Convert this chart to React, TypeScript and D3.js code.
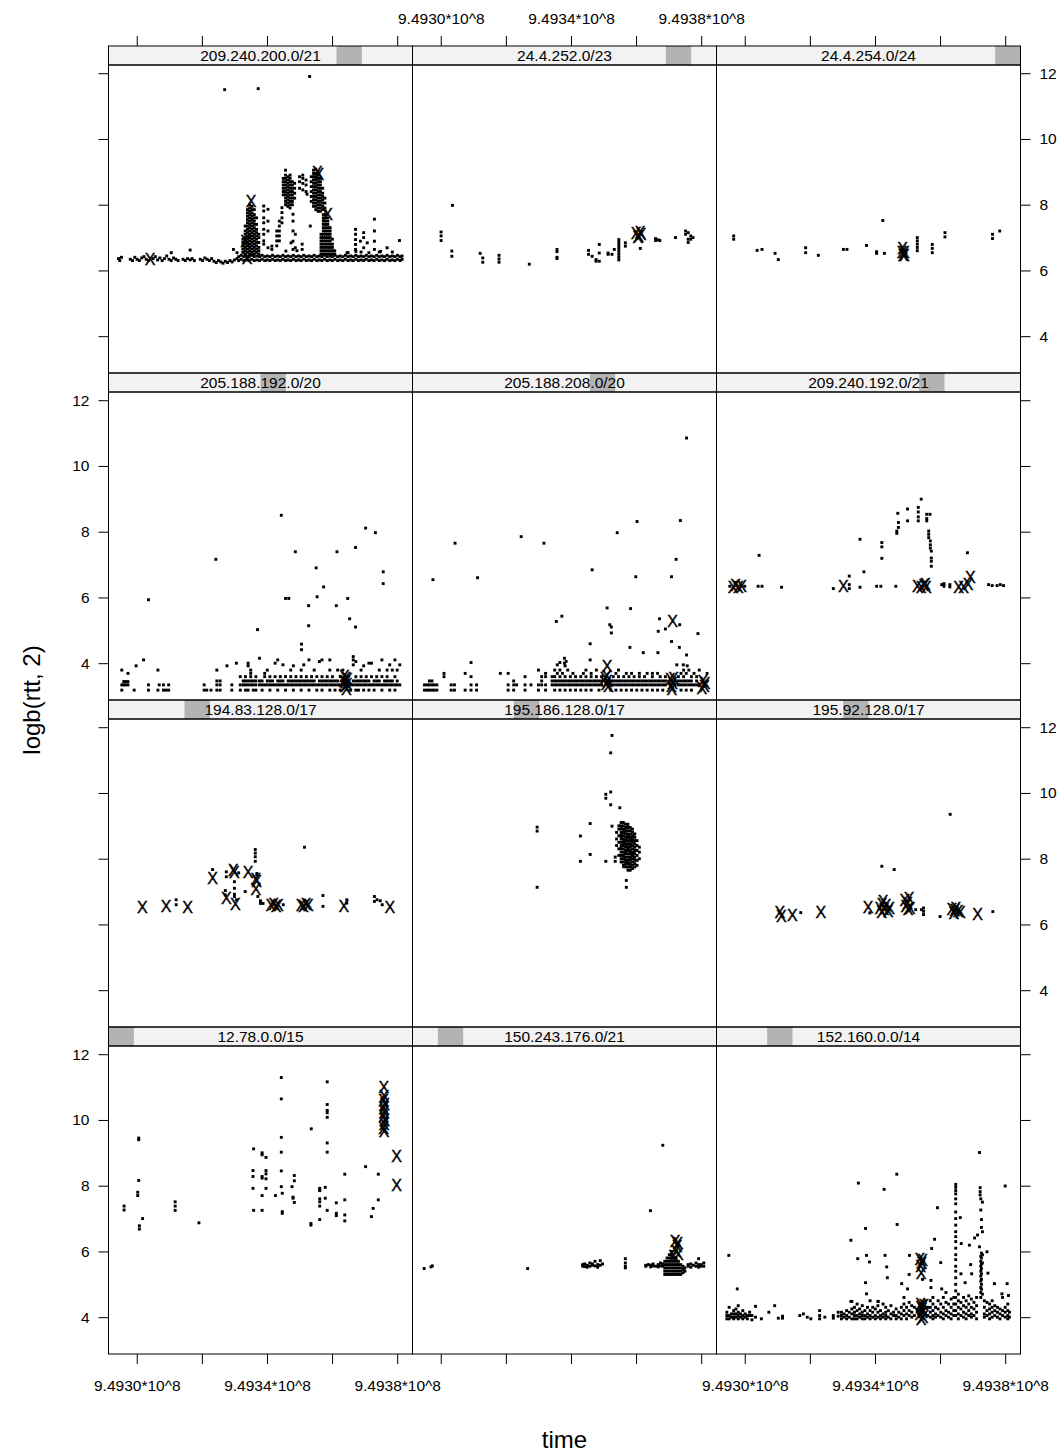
import React, { useEffect, useRef } from 'react';
import * as d3 from 'd3';

// time is kept as (seconds - 9.4930*10^8) / 10^4, rtt as logb(rtt, 2)
// every entry is [time, rtt, rtt, ...]: readings that share one time

const levels = [
  '12.78.0.0/15', '150.243.176.0/21', '152.160.0.0/14',
  '194.83.128.0/17', '195.186.128.0/17', '195.92.128.0/17',
  '205.188.192.0/20', '205.188.208.0/20', '209.240.192.0/21',
  '209.240.200.0/21', '24.4.252.0/23', '24.4.254.0/24',
];

const timeTicks = [0, 2, 4, 6, 8];
const timeTickLabels = ['9.4930*10^8', '', '9.4934*10^8', '', '9.4938*10^8'];
const rttTicks = [4, 6, 8, 10, 12];

// 12.78.0.0/15
const pts_12_78 = [
  [-0.39, 7.38, 7.26], [0.06, 9.45, 9.4, 8.16], [0.03, 7.8, 7.7], [0.18, 7.0], [0.08, 6.78, 6.68],
  [1.18, 7.51, 7.38, 7.25], [1.91, 6.87], [3.59, 9.12, 7.25], [3.57, 8.46, 8.28, 7.92],
  [3.85, 9.0, 8.94, 8.28, 8.23, 7.7, 7.25], [3.97, 8.86, 8.46, 8.36, 8.21, 7.92], [4.26, 7.7],
  [4.44, 11.29, 10.64, 9.47, 9.02, 8.45, 7.97], [4.47, 7.77, 7.21, 7.16], [4.77, 7.97],
  [4.84, 8.31, 8.15, 7.49], [4.8, 7.65, 7.62], [5.36, 9.73], [5.35, 6.85, 6.8],
  [5.62, 7.92, 7.88, 7.85, 7.6, 7.51, 7.38, 6.97], [5.79, 7.95, 7.62],
  [5.85, 11.16, 10.47, 10.29, 10.22, 10.08, 9.3, 9.02, 7.25], [6.13, 7.48, 7.16, 7.09],
  [6.39, 8.35, 7.57, 7.11, 6.93], [7.03, 8.58], [7.21, 7.06], [7.26, 7.31], [7.42, 8.35, 7.57],
];
const xs_12_78 = [
  [7.59, 11.01], [7.6, 10.72], [7.58, 10.6], [7.61, 10.48], [7.59, 10.35], [7.6, 10.22],
  [7.58, 10.1], [7.61, 9.98], [7.6, 9.86], [7.58, 9.75], [7.6, 9.65], [7.98, 8.89], [7.98, 8.02],
];

// 150.243.176.0/21
const pts_150_243 = [
  [-0.51, 5.48], [-0.3, 5.53], [-0.26, 5.56], [2.67, 5.48],
  [4.36, 5.6, 5.55], [4.42, 5.62, 5.54], [4.5, 5.58, 5.52], [4.58, 5.65, 5.55], [4.66, 5.62, 5.58],
  [4.74, 5.7, 5.56], [4.82, 5.6, 5.52], [4.9, 5.72, 5.58], [4.97, 5.62],
  [5.67, 5.78, 5.65, 5.55, 5.5],
  [6.3, 5.58, 5.55], [6.38, 5.6], [6.45, 5.58, 5.53], [6.52, 5.62, 5.56], [6.6, 5.55],
  [6.68, 5.6, 5.53], [6.75, 5.65, 5.56], [6.82, 5.62, 5.55], [6.44, 7.24], [6.82, 9.23],
  [6.88, 5.3, 5.4, 5.5, 5.6, 5.7], [6.95, 5.3, 5.4, 5.5, 5.6, 5.7, 5.8],
  [7.02, 5.3, 5.4, 5.5, 5.6, 5.7, 5.8, 5.9], [7.09, 5.3, 5.4, 5.5, 5.6, 5.7, 5.8, 5.9, 6.0],
  [7.16, 5.3, 5.4, 5.5, 5.6, 5.7, 5.8], [7.23, 5.3, 5.4, 5.5, 5.6, 5.7, 5.8],
  [7.3, 5.3, 5.4, 5.5, 5.6, 5.7], [7.37, 5.3, 5.4, 5.5, 5.6], [7.44, 5.35, 5.45, 5.55], [7.5, 5.4, 5.5],
  [7.6, 5.6, 5.55], [7.68, 5.62, 5.52], [7.76, 5.58], [7.84, 5.65, 5.55], [7.92, 5.78, 5.6, 5.52],
  [8.0, 5.6, 5.55], [8.08, 5.65, 5.55],
];
const xs_150_243 = [
  [7.2, 6.3], [7.26, 6.15], [7.22, 6.0], [7.3, 5.9], [7.15, 5.85], [7.28, 6.25],
];

// 152.160.0.0/14
const pts_152_160 = [
  [-0.55, 4.15, 4.05, 3.95], [-0.48, 4.3, 4.05, 3.95], [-0.41, 4.1, 4.0], [-0.34, 4.2, 4.1, 4.0, 3.95],
  [-0.27, 4.25, 4.1, 4.0], [-0.23, 4.86], [-0.2, 4.35, 4.15, 4.05, 3.95], [-0.13, 4.1, 4.0],
  [-0.06, 4.2, 4.05, 3.95], [0.01, 4.1, 4.0], [0.08, 4.05, 3.95], [0.15, 4.15, 4.05], [0.22, 4.05, 3.92],
  [0.33, 4.33, 4.0], [-0.49, 5.88], [0.51, 3.95], [0.74, 4.15], [0.92, 4.35], [1.03, 3.97],
  [1.16, 3.97, 4.03], [1.69, 4.05], [1.8, 4.1], [1.92, 4.0], [2.03, 3.95], [2.3, 4.2, 4.05, 3.95],
  [2.46, 4.0], [2.72, 4.05, 3.97], [2.87, 4.15, 4.03],
  [2.97, 4.15, 4.05, 3.95], [3.05, 4.1, 4.0], [3.13, 4.2, 4.05, 3.95], [3.21, 4.15, 4.0],
  [3.29, 4.48, 4.25, 4.1, 3.95], [3.37, 4.3, 4.15, 4.05, 3.95], [3.45, 4.4, 4.2, 4.05, 3.95],
  [3.53, 4.25, 4.1, 4.0], [3.61, 4.35, 4.15, 4.05, 3.95], [3.69, 4.2, 4.05, 3.95], [3.77, 4.3, 4.1, 4.0],
  [3.85, 4.5, 4.2, 4.05, 3.95], [3.93, 4.3, 4.15, 4.0], [4.01, 4.25, 4.05, 3.95],
  [4.09, 4.48, 4.35, 4.15, 4.0], [4.17, 4.2, 4.05, 3.95], [4.25, 4.4, 4.1, 4.0],
  [4.33, 4.3, 4.15, 4.05, 3.95], [4.41, 4.2, 4.0], [4.49, 4.35, 4.1, 3.95], [4.57, 4.15, 4.05],
  [4.65, 4.25, 4.05, 3.95], [4.73, 4.15, 4.0], [4.81, 4.3, 4.1, 3.95], [4.89, 4.6, 4.4, 4.2, 4.05],
  [4.97, 4.3, 4.1, 3.95], [5.05, 4.45, 4.2, 4.05], [5.13, 4.35, 4.15, 4.0], [5.21, 4.3, 4.05], [5.3, 4.2],
  [5.55, 4.5, 4.1], [5.62, 4.3, 4.05],
  [5.7, 4.5, 4.3, 4.15, 4.0], [5.78, 4.6, 4.4, 4.2, 4.05, 3.95], [5.86, 4.3, 4.1, 4.0],
  [5.94, 4.5, 4.25, 4.05], [6.02, 4.4, 4.15, 4.0], [6.1, 4.6, 4.3, 4.1, 3.95],
  [6.18, 4.75, 4.45, 4.2, 4.05], [6.26, 4.4, 4.15, 4.0], [6.34, 4.55, 4.3, 4.1, 3.95],
  [6.42, 4.6, 4.4, 4.2, 4.05], [6.56, 4.7, 4.5, 4.3, 4.1, 3.95], [6.64, 4.45, 4.25, 4.05],
  [6.72, 4.6, 4.35, 4.15, 4.0], [6.8, 4.5, 4.3, 4.1, 3.95], [6.88, 4.65, 4.4, 4.2, 4.05],
  [6.96, 4.55, 4.3, 4.1, 4.0], [7.04, 4.45, 4.25, 4.05], [7.12, 4.6, 4.35, 4.15, 3.95],
  [7.36, 4.5, 4.3, 4.1, 4.0], [7.44, 4.45, 4.2, 4.05], [7.52, 4.4, 4.25, 4.1, 3.95],
  [7.6, 4.5, 4.3, 4.15, 4.0], [7.68, 4.35, 4.2, 4.05], [7.76, 4.3, 4.15, 4.0], [7.84, 4.25, 4.1, 3.95],
  [7.92, 4.6, 4.2, 4.05], [8.0, 4.3, 4.15, 4.0], [8.08, 4.4, 4.2, 4.05, 3.95], [8.13, 4.15, 4.0],
  [6.48, 8.04, 7.95, 7.85, 7.75, 7.6, 7.45, 7.2, 7.0, 6.8, 6.6, 6.45, 6.3, 6.1, 5.9, 5.75, 5.55, 5.4,
    5.2, 5.0, 4.8, 4.6, 4.4, 4.2, 4.05],
  [7.21, 9.01, 6.14], [7.23, 7.94, 7.82, 7.72],
  [7.25, 7.6, 7.26, 5.85, 5.7, 5.55, 5.4, 5.25, 5.1, 4.9, 4.75, 4.6],
  [7.27, 6.97, 6.73, 5.95, 5.8, 5.62, 5.48, 5.32, 5.15, 5.0, 4.85], [7.3, 7.5, 6.6, 5.9, 5.65, 4.7],
  [3.26, 4.48, 6.34], [3.47, 5.78], [3.49, 8.08], [3.71, 6.7, 5.05], [3.74, 5.88, 4.71], [3.83, 5.68],
  [4.1, 4.48], [4.28, 7.89], [4.31, 5.88], [4.36, 5.53], [4.38, 5.2], [4.67, 8.35], [4.68, 6.82],
  [4.82, 5.02], [5.0, 4.86], [5.06, 5.88], [5.05, 5.3], [5.46, 5.15], [5.72, 5.12, 4.9], [5.74, 6.09],
  [5.83, 6.37], [5.92, 7.33], [6.02, 5.66], [6.05, 4.86], [6.62, 7.03], [6.65, 6.24], [6.64, 5.32],
  [6.77, 5.05], [6.9, 6.19], [6.94, 5.6], [6.97, 5.32], [7.06, 6.41], [7.15, 6.5], [7.44, 5.99],
  [7.47, 5.34], [7.67, 5.02], [7.9, 4.71], [8.06, 5.02], [8.0, 7.99], [8.1, 4.66],
];
const xs_152_160 = [
  [5.4, 4.4], [5.45, 4.25], [5.38, 4.1], [5.48, 4.0], [5.42, 3.95], [5.46, 4.15], [5.4, 4.3], [5.5, 4.35],
  [5.38, 5.75], [5.44, 5.65], [5.4, 5.55], [5.46, 5.72], [5.42, 5.35],
];

// 194.83.128.0/17
const pts_194_83 = [
  [1.21, 6.75, 6.6], [2.33, 7.67], [2.72, 7.03, 6.9], [2.75, 7.6, 7.45], [3.13, 7.57],
  [3.0, 7.3, 7.1, 6.92, 6.85], [3.06, 6.75], [3.33, 7.0], [3.64, 8.28, 8.17, 8.06, 7.92],
  [3.69, 7.55, 7.5], [3.72, 6.85], [3.8, 6.72, 6.64], [3.88, 6.64], [4.5, 6.6], [5.15, 8.35],
  [5.72, 6.88, 6.55], [6.45, 6.75, 6.65], [7.3, 6.85, 6.7], [7.38, 6.75], [7.48, 6.72], [7.54, 6.6],
];
const xs_194_83 = [
  [0.17, 6.52], [0.9, 6.55], [1.56, 6.52], [2.33, 7.41], [2.75, 6.8], [2.97, 7.64], [3.0, 7.6],
  [3.03, 6.6], [3.42, 7.6], [3.66, 7.36], [3.68, 7.3], [3.66, 7.06], [4.12, 6.58], [4.2, 6.6],
  [4.28, 6.56], [4.35, 6.58], [5.05, 6.58], [5.12, 6.55], [5.2, 6.6], [5.27, 6.57], [6.36, 6.55],
  [7.77, 6.52],
];

// 195.186.128.0/17
const pts_195_186 = [
  [5.26, 11.75], [5.22, 11.22, 10.03, 9.64], [5.07, 9.96, 9.84, 7.92], [5.5, 9.55],
  [2.96, 8.96, 8.84, 7.13], [4.59, 9.07, 8.13], [4.29, 8.69, 7.92], [5.26, 8.99], [5.36, 8.05, 7.92],
  [5.7, 7.34, 7.13],
  [5.4, 8.4, 8.6, 8.8], [5.47, 8.1, 8.3, 8.5, 8.7, 8.9, 9.0],
  [5.54, 7.9, 8.0, 8.1, 8.2, 8.3, 8.4, 8.5, 8.6, 8.7, 8.8, 8.9, 9.0, 9.1],
  [5.61, 7.8, 7.9, 8.0, 8.1, 8.2, 8.3, 8.4, 8.5, 8.6, 8.7, 8.8, 8.9, 9.0, 9.1],
  [5.68, 7.75, 7.85, 7.95, 8.05, 8.15, 8.25, 8.35, 8.45, 8.55, 8.65, 8.75, 8.85, 8.95, 9.05],
  [5.75, 7.65, 7.75, 7.85, 7.95, 8.05, 8.15, 8.25, 8.35, 8.45, 8.55, 8.65, 8.75, 8.85, 8.95, 9.05],
  [5.82, 7.65, 7.75, 7.85, 7.95, 8.05, 8.15, 8.25, 8.35, 8.45, 8.55, 8.65, 8.75, 8.85, 8.95],
  [5.89, 7.7, 7.8, 7.9, 8.0, 8.1, 8.2, 8.3, 8.4, 8.5, 8.6, 8.7, 8.8, 8.9],
  [5.96, 7.75, 7.85, 7.95, 8.05, 8.15, 8.25, 8.35, 8.45, 8.55, 8.65, 8.75],
  [6.03, 7.8, 7.95, 8.1, 8.25, 8.4, 8.55], [6.1, 8.0, 8.2, 8.35],
];
const xs_195_186 = [
  [5.62, 8.85], [5.75, 8.3], [5.88, 8.1], [5.72, 7.9], [5.85, 8.6], [5.65, 8.5],
];

// 195.92.128.0/17
const pts_195_92 = [
  [1.72, 6.36], [5.49, 6.5, 6.4, 6.3], [5.43, 6.45], [6.0, 6.24], [7.62, 6.39], [6.31, 9.35],
  [4.21, 7.77], [4.59, 7.67], [5.25, 6.45], [3.84, 6.35],
];
const xs_195_92 = [
  [1.08, 6.36], [1.12, 6.26], [1.46, 6.27], [2.34, 6.37], [3.79, 6.52],
  [4.15, 6.5], [4.22, 6.62], [4.28, 6.45], [4.34, 6.58], [4.4, 6.4], [4.25, 6.7], [4.45, 6.5], [4.2, 6.38],
  [4.92, 6.75], [5.0, 6.65], [5.05, 6.8], [4.95, 6.55], [5.08, 6.5], [5.02, 6.45],
  [6.36, 6.45], [6.42, 6.35], [6.48, 6.5], [6.55, 6.4], [6.62, 6.38], [6.45, 6.42], [7.15, 6.31],
];

// 205.188.192.0/20
const pts_205_188_192 = [
  [-0.46, 3.79, 3.34, 3.18], [-0.4, 3.44, 3.34], [-0.34, 3.44, 3.34], [-0.27, 3.69, 3.44, 3.34],
  [-0.08, 3.18], [-0.02, 3.92], [0.21, 4.1], [0.36, 5.93, 3.34, 3.18], [0.65, 3.79, 3.18],
  [0.69, 3.34], [0.82, 3.34, 3.18], [0.9, 3.18], [0.98, 3.34, 3.18],
  [2.07, 3.34, 3.18], [2.15, 3.18], [2.28, 3.18], [2.43, 7.16], [2.46, 3.79, 3.46, 3.34, 3.18],
  [2.56, 3.46, 3.34, 3.18], [2.77, 3.92], [2.92, 3.34, 3.18], [3.06, 4.0],
  [3.18, 3.59, 3.34, 3.18], [3.27, 3.46, 3.34], [3.34, 3.59, 3.46, 3.34, 3.18],
  [3.42, 4.0, 3.92, 3.46, 3.34, 3.18], [3.5, 3.79, 3.69, 3.59, 3.46, 3.34], [3.58, 3.46, 3.34, 3.18],
  [3.66, 3.59, 3.46, 3.34, 3.18], [3.71, 5.02], [3.77, 4.15, 3.46, 3.34],
  [3.85, 3.46, 3.34, 3.18], [3.93, 3.69, 3.59, 3.34], [4.01, 3.79, 3.46, 3.34],
  [4.09, 3.59, 3.46, 3.34, 3.18], [4.17, 3.46, 3.34], [4.25, 4.0, 3.59, 3.34],
  [4.33, 4.1, 3.46, 3.34, 3.18], [4.41, 3.59, 3.46, 3.34], [4.49, 3.95, 3.46, 3.34],
  [4.57, 3.59, 3.34, 3.18], [4.65, 3.46, 3.34], [4.73, 3.79, 3.59, 3.46, 3.34],
  [4.81, 3.92, 3.46, 3.34, 3.18], [4.89, 3.59, 3.46, 3.34], [4.97, 3.46, 3.34],
  [5.05, 3.79, 3.59, 3.46, 3.34, 3.18], [5.13, 3.95, 3.46, 3.34], [5.21, 3.59, 3.46, 3.34],
  [5.29, 4.1, 3.46, 3.34, 3.18], [5.37, 3.59, 3.46, 3.34], [5.45, 3.79, 3.46, 3.34],
  [5.53, 3.59, 3.34, 3.18], [5.61, 4.05, 3.46, 3.34], [5.69, 4.1, 3.59, 3.46, 3.34, 3.18],
  [5.77, 3.46, 3.34], [5.85, 3.59, 3.46, 3.34], [5.93, 4.1, 3.79, 3.46, 3.34, 3.18],
  [6.01, 3.59, 3.46, 3.34], [6.09, 3.46, 3.34, 3.18], [6.17, 3.79, 3.46, 3.34],
  [6.25, 3.59, 3.34, 3.18], [6.33, 3.79, 3.46], [6.57, 3.34, 3.18],
  [6.65, 4.2, 4.1, 3.95, 3.46, 3.34], [6.73, 4.05, 3.59, 3.46, 3.34, 3.18], [6.81, 3.46, 3.34, 3.18],
  [6.89, 3.79, 3.59, 3.46, 3.34], [6.97, 3.92, 3.46, 3.34, 3.18], [7.05, 3.59, 3.46, 3.34],
  [7.13, 4.0, 3.46, 3.34, 3.18], [7.21, 4.0, 3.59, 3.34], [7.29, 3.46, 3.34, 3.18],
  [7.37, 3.59, 3.46, 3.34], [7.45, 3.79, 3.46, 3.34], [7.53, 4.1, 3.59, 3.34, 3.18],
  [7.61, 3.46, 3.34], [7.69, 3.79, 3.59, 3.46, 3.34], [7.77, 3.95, 3.46, 3.34, 3.18],
  [7.85, 3.79, 3.46, 3.34], [7.93, 4.1, 3.59, 3.34, 3.18], [8.0, 3.79, 3.46, 3.34], [8.08, 3.95, 3.34],
  [4.44, 8.5], [4.87, 7.39], [4.57, 5.97], [4.67, 5.97], [5.06, 4.58, 4.41], [5.28, 5.75, 5.14],
  [5.51, 6.9], [5.54, 6.02], [5.74, 6.32], [6.15, 7.39], [6.13, 5.75], [6.48, 5.97], [6.54, 5.35],
  [6.72, 7.52, 5.1], [7.03, 8.11], [7.33, 7.97], [7.57, 6.78, 6.42],
];
const xs_205_188_192 = [
  [6.36, 3.45], [6.42, 3.55], [6.46, 3.35], [6.4, 3.3], [6.44, 3.2], [6.38, 3.6], [6.47, 3.5], [6.41, 3.42],
];

// 205.188.208.0/20
const pts_205_188_208 = [
  [-0.5, 3.34, 3.18], [-0.42, 3.34, 3.18], [-0.35, 3.46, 3.34, 3.18], [-0.27, 3.46, 3.34, 3.18],
  [-0.2, 3.34, 3.18], [-0.12, 3.34, 3.18], [0.1, 3.69, 3.59], [0.32, 3.34, 3.18], [0.42, 3.34, 3.18],
  [0.75, 3.69, 3.18], [0.93, 4.02, 3.59, 3.34, 3.18], [1.1, 3.34, 3.18], [1.83, 3.69],
  [2.07, 3.69, 3.34, 3.18], [2.24, 3.46, 3.34, 3.18], [2.33, 3.34], [2.59, 3.59, 3.34, 3.18], [2.77, 3.34],
  [3.0, 3.79, 3.34, 3.18], [3.1, 3.59, 3.46, 3.34], [3.22, 3.69, 3.59, 3.34, 3.18],
  [3.42, 3.59, 3.46, 3.34], [3.5, 3.79, 3.59, 3.46, 3.34, 3.18], [3.58, 3.95, 3.69, 3.46, 3.34],
  [3.66, 4.02, 3.79, 3.59, 3.46, 3.34, 3.18], [3.74, 3.69, 3.46, 3.34], [3.82, 3.92, 3.59, 3.46, 3.34, 3.18],
  [3.9, 3.79, 3.46, 3.34], [3.98, 3.59, 3.46, 3.34, 3.18], [4.06, 3.69, 3.46, 3.34],
  [4.14, 3.59, 3.46, 3.34, 3.18], [4.22, 3.46, 3.34], [4.3, 3.59, 3.46, 3.34, 3.18],
  [4.38, 3.69, 3.46, 3.34], [4.46, 3.79, 3.59, 3.46, 3.34, 3.18], [4.54, 3.46, 3.34],
  [4.62, 3.69, 3.59, 3.46, 3.34, 3.18], [4.7, 3.46, 3.34], [4.78, 3.79, 3.59, 3.46, 3.34],
  [4.86, 3.46, 3.34, 3.18], [4.94, 3.59, 3.46, 3.34], [5.22, 3.46, 3.34, 3.18], [5.3, 3.59, 3.46, 3.34],
  [5.38, 3.69, 3.46, 3.34, 3.18], [5.46, 3.79, 3.59, 3.46, 3.34], [5.54, 3.46, 3.34, 3.18],
  [5.62, 3.59, 3.46, 3.34], [5.7, 3.69, 3.46, 3.34, 3.18], [5.78, 3.59, 3.46, 3.34],
  [5.86, 3.69, 3.46, 3.34, 3.18], [5.94, 3.59, 3.46, 3.34], [6.02, 3.46, 3.34, 3.18],
  [6.1, 3.69, 3.59, 3.46, 3.34], [6.18, 3.46, 3.34, 3.18], [6.26, 3.59, 3.46, 3.34],
  [6.34, 3.69, 3.46, 3.34, 3.18], [6.42, 3.46, 3.34], [6.5, 3.69, 3.59, 3.46, 3.34, 3.18],
  [6.58, 3.46, 3.34], [6.66, 3.69, 3.46, 3.34, 3.18], [6.74, 3.59, 3.46, 3.34], [6.82, 3.46, 3.34, 3.18],
  [6.9, 3.59, 3.46, 3.34], [7.2, 3.46, 3.34], [7.3, 3.59, 3.46, 3.34],
  [7.38, 3.69, 3.46, 3.34, 3.18], [7.46, 3.79, 3.59, 3.46, 3.34], [7.54, 3.69, 3.46, 3.34, 3.18],
  [7.62, 3.79, 3.46, 3.34], [7.7, 3.59, 3.46, 3.34, 3.18], [7.78, 3.69, 3.34], [7.86, 3.59, 3.46, 3.34],
  [7.94, 3.79, 3.34], [8.18, 3.69, 3.46],
  [7.55, 10.85], [6.03, 8.31], [7.36, 8.34], [5.42, 7.97], [2.47, 7.85], [0.44, 7.65], [3.17, 7.65],
  [7.23, 7.16], [4.65, 6.84], [5.99, 6.63], [7.09, 6.63], [-0.24, 6.54], [1.13, 6.6], [5.11, 5.68],
  [5.83, 5.66], [3.55, 5.27], [3.72, 5.43], [5.19, 5.17], [5.24, 5.1, 4.92], [6.72, 5.35], [6.68, 4.97],
  [6.9, 5.04], [7.34, 5.17], [7.9, 4.9], [4.59, 4.59, 4.1], [5.81, 4.48], [6.22, 4.32], [6.67, 4.32],
  [7.09, 4.66], [7.33, 4.48], [7.55, 4.25], [7.25, 3.95], [7.45, 3.95], [7.57, 3.92],
  [3.8, 4.15, 4.0], [3.85, 4.05],
];
const xs_205_188_208 = [
  [7.12, 5.29], [5.11, 3.9],
  [5.05, 3.55], [5.12, 3.45], [5.08, 3.35], [5.15, 3.3], [5.1, 3.6],
  [7.05, 3.5], [7.12, 3.4], [7.08, 3.3], [7.15, 3.55], [7.1, 3.2],
  [8.05, 3.45], [8.1, 3.3], [8.02, 3.25], [8.12, 3.4],
];

// 209.240.192.0/21
const pts_209_240_192 = [
  [-0.46, 6.34], [-0.1, 6.36], [0.0, 6.34], [0.41, 6.34], [0.44, 7.28], [0.53, 6.34], [1.13, 6.31],
  [2.72, 6.27], [3.21, 6.65, 6.39, 6.27], [3.54, 7.77, 6.31], [3.66, 6.78], [4.05, 6.34], [4.18, 6.34],
  [4.21, 7.67, 7.54, 7.19], [4.64, 6.34], [4.67, 8.02, 7.95], [4.72, 8.28, 8.13], [4.7, 8.56],
  [5.0, 8.69, 8.33], [5.33, 8.74, 8.6, 8.45, 8.33], [5.42, 8.99], [5.59, 8.53, 8.4, 8.33], [5.69, 8.53],
  [5.65, 8.02, 7.92, 7.82], [5.7, 7.72, 7.6, 7.5], [5.73, 7.41, 7.2, 7.1, 6.95],
  [6.05, 6.39], [6.12, 6.42, 6.34], [6.3, 6.39, 6.32], [6.84, 7.36],
  [7.49, 6.39], [7.6, 6.36], [7.75, 6.36], [7.85, 6.39], [7.95, 6.36],
];
const xs_209_240_192 = [
  [-0.36, 6.32], [-0.28, 6.36], [-0.2, 6.3], [-0.1, 6.35], [3.03, 6.34],
  [5.3, 6.34], [5.42, 6.32], [5.5, 6.36], [5.58, 6.3], [5.55, 6.4],
  [6.57, 6.31], [6.72, 6.31], [6.86, 6.4], [6.93, 6.6],
];

// 209.240.200.0/21
const pts_209_240_200 = [
  [-0.56, 6.36], [-0.52, 6.3], [-0.47, 6.4],
  [-0.2, 6.34], [-0.13, 6.3], [-0.06, 6.4], [0.01, 6.34], [0.08, 6.3], [0.15, 6.38], [0.22, 6.42],
  [0.29, 6.34], [0.36, 6.3], [0.5, 6.36], [0.57, 6.42], [0.64, 6.32], [0.71, 6.38], [0.78, 6.3],
  [0.85, 6.36], [0.92, 6.44], [0.99, 6.34], [1.06, 6.3, 6.54], [1.13, 6.38], [1.2, 6.34], [1.27, 6.3],
  [1.42, 6.34], [1.49, 6.3], [1.56, 6.36], [1.64, 6.32, 6.62], [1.7, 6.36], [1.77, 6.3],
  [1.95, 6.34], [2.02, 6.3], [2.09, 6.38], [2.16, 6.34], [2.23, 6.3], [2.3, 6.36],
  [2.37, 6.28], [2.44, 6.24], [2.51, 6.3], [2.58, 6.26], [2.65, 6.22], [2.72, 6.28], [2.79, 6.24],
  [2.86, 6.3], [2.93, 6.26], [2.97, 6.64], [3.0, 6.32], [3.08, 6.36, 6.54],
  [3.13, 6.3, 6.42], [3.21, 6.34, 6.46], [3.29, 6.3, 6.42], [3.37, 6.32, 6.44], [3.45, 6.3, 6.42],
  [3.53, 6.34, 6.46], [3.61, 6.3, 6.42], [3.69, 6.32, 6.44], [3.77, 6.3, 6.42], [3.85, 6.34, 6.46],
  [3.93, 6.3, 6.42], [4.01, 6.32, 6.44], [4.09, 6.3, 6.42], [4.17, 6.34, 6.46], [4.25, 6.3, 6.42],
  [4.33, 6.32, 6.44], [4.41, 6.3, 6.42], [4.49, 6.34, 6.46], [4.57, 6.3, 6.42], [4.65, 6.32, 6.44],
  [4.73, 6.3, 6.42], [4.81, 6.34, 6.46], [4.89, 6.3, 6.42], [4.97, 6.32, 6.44], [5.05, 6.3, 6.42],
  [5.13, 6.34, 6.46], [5.21, 6.3, 6.42], [5.29, 6.32, 6.44], [5.37, 6.3, 6.42], [5.45, 6.34, 6.46],
  [5.53, 6.3, 6.42], [5.61, 6.32, 6.44], [5.69, 6.3, 6.42], [5.77, 6.34, 6.46], [5.85, 6.3, 6.42],
  [5.93, 6.32, 6.44], [6.01, 6.3, 6.42], [6.09, 6.34, 6.46], [6.17, 6.3, 6.42], [6.25, 6.32, 6.44],
  [6.33, 6.3, 6.42], [6.41, 6.34, 6.46], [6.49, 6.3, 6.42, 6.54], [6.57, 6.32, 6.44], [6.65, 6.3, 6.42],
  [6.73, 6.34, 6.46, 6.58], [6.81, 6.3, 6.42], [6.89, 6.32, 6.44, 6.56], [6.97, 6.3, 6.42],
  [7.05, 6.34, 6.46], [7.13, 6.3, 6.42, 6.54], [7.21, 6.32, 6.44], [7.29, 6.3, 6.42], [7.37, 6.34, 6.46],
  [7.45, 6.3, 6.42, 6.56], [7.53, 6.32, 6.44], [7.61, 6.3, 6.42], [7.69, 6.34, 6.46], [7.77, 6.3, 6.42],
  [7.85, 6.32, 6.44, 6.56], [7.93, 6.3, 6.42], [8.01, 6.34, 6.46], [8.09, 6.3, 6.42], [8.15, 6.34, 6.44],
  [3.26, 6.55, 6.65, 6.75, 6.85, 6.95],
  [3.33, 6.5, 6.6, 6.7, 6.8, 6.9, 7.0, 7.1, 7.2, 7.35],
  [3.4, 6.55, 6.65, 6.75, 6.85, 6.95, 7.05, 7.15, 7.25, 7.35, 7.45, 7.55, 7.65, 7.75, 7.85],
  [3.47, 6.5, 6.6, 6.7, 6.8, 6.9, 7.0, 7.1, 7.2, 7.3, 7.4, 7.5, 7.6, 7.7, 7.8, 7.9, 8.0],
  [3.54, 6.55, 6.65, 6.75, 6.85, 6.95, 7.05, 7.15, 7.25, 7.35, 7.45, 7.55, 7.65, 7.75, 7.85, 7.95],
  [3.61, 6.5, 6.6, 6.7, 6.8, 6.9, 7.0, 7.1, 7.2, 7.3, 7.4, 7.5, 7.6, 7.7, 7.85],
  [3.68, 6.55, 6.65, 6.75, 6.85, 6.95, 7.05, 7.15, 7.25, 7.4, 7.6],
  [3.75, 6.5, 6.6, 6.7, 6.85, 7.0, 7.1],
  [3.9, 7.96, 7.81, 7.6, 7.45, 7.25, 7.1, 6.9, 6.8], [4.03, 7.86, 7.5, 7.2, 6.69], [4.15, 6.74, 6.64],
  [4.3, 7.2, 7.05, 6.9, 6.75], [4.38, 7.5, 7.35, 7.2, 7.05, 6.9], [4.46, 7.91, 7.76, 7.6, 7.45],
  [4.58, 6.59], [4.74, 6.84],
  [4.5, 8.3, 8.4, 8.5, 8.6, 8.7, 8.8],
  [4.57, 8.0, 8.1, 8.2, 8.3, 8.4, 8.5, 8.6, 8.7, 8.8, 8.9, 9.05],
  [4.64, 7.95, 8.05, 8.15, 8.25, 8.35, 8.45, 8.55, 8.65, 8.75, 8.85],
  [4.71, 7.9, 8.0, 8.1, 8.2, 8.3, 8.4, 8.5, 8.6, 8.7, 8.8, 8.9],
  [4.78, 8.0, 8.1, 8.2, 8.3, 8.4, 8.5, 8.6, 8.7], [4.85, 8.2, 8.35, 8.5, 8.65],
  [4.8, 7.71, 7.5, 7.2, 6.89, 6.64], [4.87, 7.1, 6.69],
  [5.0, 8.5, 8.7, 8.85], [5.1, 8.45, 8.65, 8.8, 8.9], [5.2, 8.4, 8.6, 8.75], [5.23, 8.32],
  [5.33, 7.35], [5.08, 6.8, 6.64], [4.92, 6.6],
  [5.36, 8.1, 8.25, 8.4, 8.55, 8.7, 8.85],
  [5.43, 7.95, 8.05, 8.15, 8.25, 8.35, 8.45, 8.55, 8.65, 8.75, 8.85, 8.95, 9.05],
  [5.5, 7.85, 7.95, 8.05, 8.15, 8.25, 8.35, 8.45, 8.55, 8.65, 8.75, 8.85, 8.95, 9.08],
  [5.57, 7.8, 7.9, 8.0, 8.1, 8.2, 8.3, 8.4, 8.5, 8.6, 8.7, 8.8, 8.9, 9.0],
  [5.64, 7.8, 7.9, 8.0, 8.1, 8.2, 8.3, 8.4, 8.5, 8.6, 8.7, 8.8],
  [5.71, 7.85, 7.95, 8.05, 8.15, 8.25, 8.35, 8.5], [5.78, 7.9, 8.05, 8.2],
  [5.66, 6.5, 6.6, 6.7, 6.8, 6.9, 7.0, 7.1],
  [5.73, 6.5, 6.6, 6.7, 6.8, 6.9, 7.0, 7.1, 7.2, 7.3, 7.4, 7.5, 7.6, 7.7],
  [5.8, 6.5, 6.6, 6.7, 6.8, 6.9, 7.0, 7.1, 7.2, 7.3, 7.4, 7.5, 7.6, 7.7, 7.8],
  [5.87, 6.5, 6.6, 6.7, 6.8, 6.9, 7.0, 7.1, 7.2, 7.3, 7.4, 7.5, 7.6],
  [5.94, 6.5, 6.6, 6.7, 6.8, 6.9, 7.0, 7.1, 7.2, 7.3], [6.01, 6.5, 6.6, 6.7, 6.8, 6.95], [6.08, 6.5, 6.6],
  [6.46, 6.54], [6.72, 7.25, 7.1, 6.94, 6.79, 6.64], [6.87, 6.89], [6.97, 7.15, 7.0, 6.69], [7.08, 6.84],
  [7.3, 7.56, 7.2, 6.89, 6.64], [7.49, 6.58], [7.69, 6.69], [8.07, 6.91],
  [2.7, 11.5], [3.73, 11.53], [5.31, 11.9],
];
const xs_209_240_200 = [
  [0.41, 6.33], [3.51, 8.12], [3.34, 6.88], [3.39, 6.38], [5.59, 8.93], [5.55, 8.98], [5.86, 7.72],
];

// 24.4.252.0/23
const pts_24_4_252 = [
  [0.01, 7.17, 7.05, 6.91], [0.36, 7.98], [0.34, 6.59, 6.43], [1.21, 6.52], [1.29, 6.38, 6.25],
  [1.79, 6.46, 6.35, 6.25], [2.72, 6.19], [3.57, 6.64, 6.57, 6.4, 6.36], [4.54, 6.61, 6.49],
  [4.65, 6.43], [4.77, 6.33, 6.28], [4.87, 6.79, 6.53, 6.28], [5.14, 6.53, 6.49], [5.26, 6.49],
  [5.33, 6.64], [5.47, 6.94, 6.85, 6.76, 6.67, 6.58, 6.49, 6.4, 6.32], [5.67, 6.84, 6.74],
  [6.13, 6.67], [6.6, 6.97, 6.91], [6.68, 6.93], [6.73, 6.91], [7.21, 7.0], [7.52, 7.2, 7.1],
  [7.6, 7.15, 6.95, 6.85], [7.68, 7.05, 6.95], [7.75, 7.0],
];
const xs_24_4_252 = [
  [6.0, 7.12], [6.08, 7.05], [6.15, 7.1], [6.05, 7.0], [6.12, 7.15],
];

// 24.4.254.0/24
const pts_24_4_254 = [
  [-0.34, 7.05, 6.95], [0.38, 6.61], [0.53, 6.64], [0.93, 6.52], [1.03, 6.33], [1.87, 6.69, 6.54],
  [2.26, 6.46], [3.03, 6.64], [3.14, 6.64], [3.74, 6.76], [4.05, 6.57, 6.52], [4.29, 6.52], [4.24, 7.52],
  [5.3, 7.0, 6.9, 6.8, 6.7, 6.6], [5.76, 6.79, 6.67, 6.54], [6.15, 7.15, 7.02], [7.61, 7.1, 6.97],
  [7.83, 7.2],
];
const xs_24_4_254 = [
  [4.85, 6.68], [4.9, 6.56], [4.86, 6.45], [4.83, 6.55], [4.9, 6.45],
];

// in the order of levels
const panelPts = [
  pts_12_78, pts_150_243, pts_152_160, pts_194_83, pts_195_186, pts_195_92,
  pts_205_188_192, pts_205_188_208, pts_209_240_192, pts_209_240_200, pts_24_4_252, pts_24_4_254,
];
const panelXs = [
  xs_12_78, xs_150_243, xs_152_160, xs_194_83, xs_195_186, xs_195_92,
  xs_205_188_192, xs_205_188_208, xs_209_240_192, xs_209_240_200, xs_24_4_252, xs_24_4_254,
];

const expand = (cols) => cols.flatMap(([t, ...ys]) => ys.map(v => [t, v]));

const App = () => {
  const svgRef = useRef(null);

  useEffect(() => {
    draw();
  }, []);

  const draw = () => {
    const svg = d3.select(svgRef.current);
    svg.selectAll('*').remove();

    const font = "'Liberation Sans', Arial, Helvetica, sans-serif";
    const left = 108.5;
    const top = 46;
    const colW = 304;
    const stripH = 19;
    const panelH = 308;
    const rowH = 327;
    const tickFont = 15.5;
    const dot = 2.9;

    const x = d3.scaleLinear().domain([-0.868, 8.47]).range([0, colW]);
    const y = d3.scaleLinear().domain([2.88, 12.25]).range([panelH, 0]);

    const styleAxis = (g) => {
      g.attr('font-family', font).attr('font-size', tickFont);
      g.select('.domain').remove();
      g.selectAll('line').attr('stroke', '#000');
      g.selectAll('text').attr('fill', '#000');
    };

    levels.forEach((name, i) => {
      const col = i % 3;
      const row = 3 - Math.floor(i / 3);
      const g = svg.append('g')
        .attr('transform', `translate(${left + col * colW},${top + row * rowH})`);

      // strip with the level marker
      g.append('rect').attr('width', colW).attr('height', stripH).attr('fill', '#f2f2f2');
      g.append('rect')
        .attr('x', (i * colW) / 12)
        .attr('width', colW / 12)
        .attr('height', stripH)
        .attr('fill', '#b3b3b3');
      g.append('text')
        .attr('x', colW / 2)
        .attr('y', stripH / 2)
        .attr('dy', '0.36em')
        .attr('text-anchor', 'middle')
        .attr('font-family', font)
        .attr('font-size', tickFont)
        .text(name);
      g.append('rect')
        .attr('width', colW).attr('height', stripH)
        .attr('fill', 'none').attr('stroke', '#000').attr('stroke-width', 1);

      // panel
      const p = g.append('g').attr('transform', `translate(0,${stripH})`);

      p.selectAll('rect.pt')
        .data(expand(panelPts[i]))
        .enter()
        .append('rect')
        .attr('class', 'pt')
        .attr('x', d => x(d[0]) - dot / 2)
        .attr('y', d => y(d[1]) - dot / 2)
        .attr('width', dot)
        .attr('height', dot)
        .attr('fill', '#000');

      p.selectAll('text.mark')
        .data(expand(panelXs[i]))
        .enter()
        .append('text')
        .attr('class', 'mark')
        .attr('x', d => x(d[0]))
        .attr('y', d => y(d[1]))
        .attr('dy', '0.36em')
        .attr('text-anchor', 'middle')
        .attr('font-family', font)
        .attr('font-size', 16)
        .attr('fill', '#000')
        .attr('stroke', '#000')
        .attr('stroke-width', 0.4)
        .text('X');

      p.append('rect')
        .attr('width', colW).attr('height', panelH)
        .attr('fill', 'none').attr('stroke', '#000').attr('stroke-width', 1);

      // time axes: ticks on every column, labels only on alternate ones
      if (row === 0) {
        g.append('g')
          .call(d3.axisTop(x).tickValues(timeTicks).tickSize(10).tickPadding(12)
            .tickFormat((d, k) => (col === 1 ? timeTickLabels[k] : '')))
          .call(styleAxis);
      }
      if (row === 3) {
        p.append('g')
          .attr('transform', `translate(0,${panelH})`)
          .call(d3.axisBottom(x).tickValues(timeTicks).tickSize(10).tickPadding(16)
            .tickFormat((d, k) => (col !== 1 ? timeTickLabels[k] : '')))
          .call(styleAxis);
      }

      // rtt axes
      if (col === 0) {
        p.append('g')
          .call(d3.axisLeft(y).tickValues(rttTicks).tickSize(10).tickPadding(9)
            .tickFormat(d => (row % 2 === 1 ? String(d) : '')))
          .call(styleAxis);
      }
      if (col === 2) {
        p.append('g')
          .attr('transform', `translate(${colW},0)`)
          .call(d3.axisRight(y).tickValues(rttTicks).tickSize(10).tickPadding(9)
            .tickFormat(d => (row % 2 === 0 ? String(d) : '')))
          .call(styleAxis);
      }
    });

    svg.append('text')
      .attr('x', left + (3 * colW) / 2)
      .attr('y', 1448)
      .attr('text-anchor', 'middle')
      .attr('font-family', font)
      .attr('font-size', 24)
      .text('time');

    svg.append('text')
      .attr('transform', `translate(40,${top + 2 * rowH}) rotate(-90)`)
      .attr('text-anchor', 'middle')
      .attr('font-family', font)
      .attr('font-size', 24)
      .text('logb(rtt, 2)');
  };

  return (
    <svg
      ref={svgRef}
      width={1060}
      height={1454}
      style={{ position: 'absolute', left: 0, top: 0, background: '#fff' }}
    ></svg>
  );
};

export default App;
